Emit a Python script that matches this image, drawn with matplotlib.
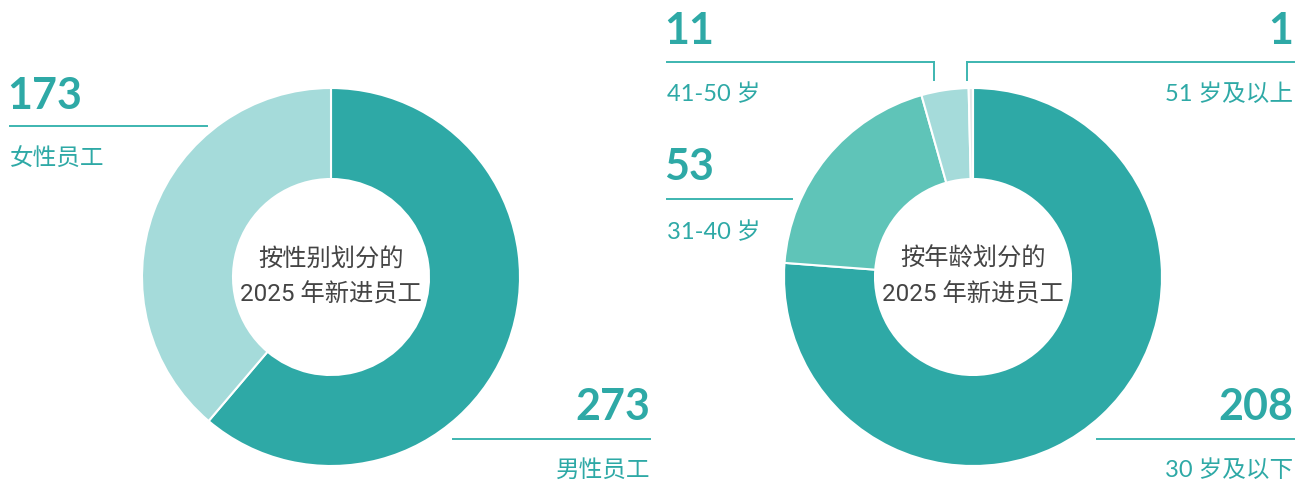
import matplotlib.pyplot as plt

# data
gender_labels = ['男性员工', '女性员工']
gender_values = [273, 173]
age_labels = ['30 岁及以下', '31-40 岁', '41-50 岁', '51 岁及以上']
age_values = [208, 53, 11, 1]

teal = '#2ea9a6'
gender_colors = [teal, '#a5dbda']
age_colors = [teal, '#5fc4b8', '#a5dbda', '#e4e6e8']

W, H = 1308, 482
fig = plt.figure(figsize=(W / 100, H / 100), dpi=100)
ax = fig.add_axes([0, 0, 1, 1])

def Y(py):
    return H - py

wp = dict(width=91, edgecolor='white', linewidth=1.5)
ax.pie(gender_values, colors=gender_colors, startangle=90, counterclock=False,
       center=(331, Y(277)), radius=189, wedgeprops=wp)
ax.pie(age_values, colors=age_colors, startangle=90, counterclock=False,
       center=(973, Y(277)), radius=189, wedgeprops=wp)

ax.set_xlim(0, W)
ax.set_ylim(0, H)
ax.set_aspect('equal')
ax.axis('off')

num_font = ['Lato', 'Noto Sans CJK SC']
lab_font = ['Lato', 'Noto Sans CJK SC']
ctr_font = ['Roboto', 'Noto Sans CJK SC']
line_c = '#3db5b0'

def callout(value, label, x, ha, y_num, y_line, y_lab, x0, x1):
    nx = x - 3 if ha == 'left' else x
    ax.text(nx, Y(y_num), str(value), ha=ha, va='baseline', fontsize=31,
            fontweight='bold', color=teal, family=num_font)
    ax.plot([x0, x1], [Y(y_line), Y(y_line)], color=line_c, lw=1.4)
    ax.text(x, Y(y_lab), label, ha=ha, va='baseline', fontsize=17,
            color=teal, family=lab_font)

# gender
callout(gender_values[1], gender_labels[1], 10, 'left', 109, 126, 165, 10, 207)
callout(gender_values[0], gender_labels[0], 650, 'right', 420, 439, 477, 453, 650)

# age
callout(age_values[0], age_labels[0], 1293, 'right', 420, 439, 477, 1097, 1294)
callout(age_values[1], age_labels[1], 667, 'left', 180, 199, 239, 667, 792)
callout(age_values[2], age_labels[2], 667, 'left', 44, 62, 101, 667, 934)
ax.plot([934, 934], [Y(62), Y(80)], color=line_c, lw=1.4)
callout(age_values[3], age_labels[3], 1293, 'right', 44, 62, 101, 967, 1294)
ax.plot([967, 967], [Y(62), Y(80)], color=line_c, lw=1.4)

# centre text
for cx, t in [(331, '按性别划分的'), (973, '按年龄划分的')]:
    ax.text(cx, Y(266), t, ha='center', va='baseline', fontsize=17.5,
            color='#444444', family=ctr_font)
    ax.text(cx, Y(302), '2025 年新进员工', ha='center', va='baseline',
            fontsize=17.5, color='#444444', family=ctr_font)

fig.savefig('out.png', dpi=100)
